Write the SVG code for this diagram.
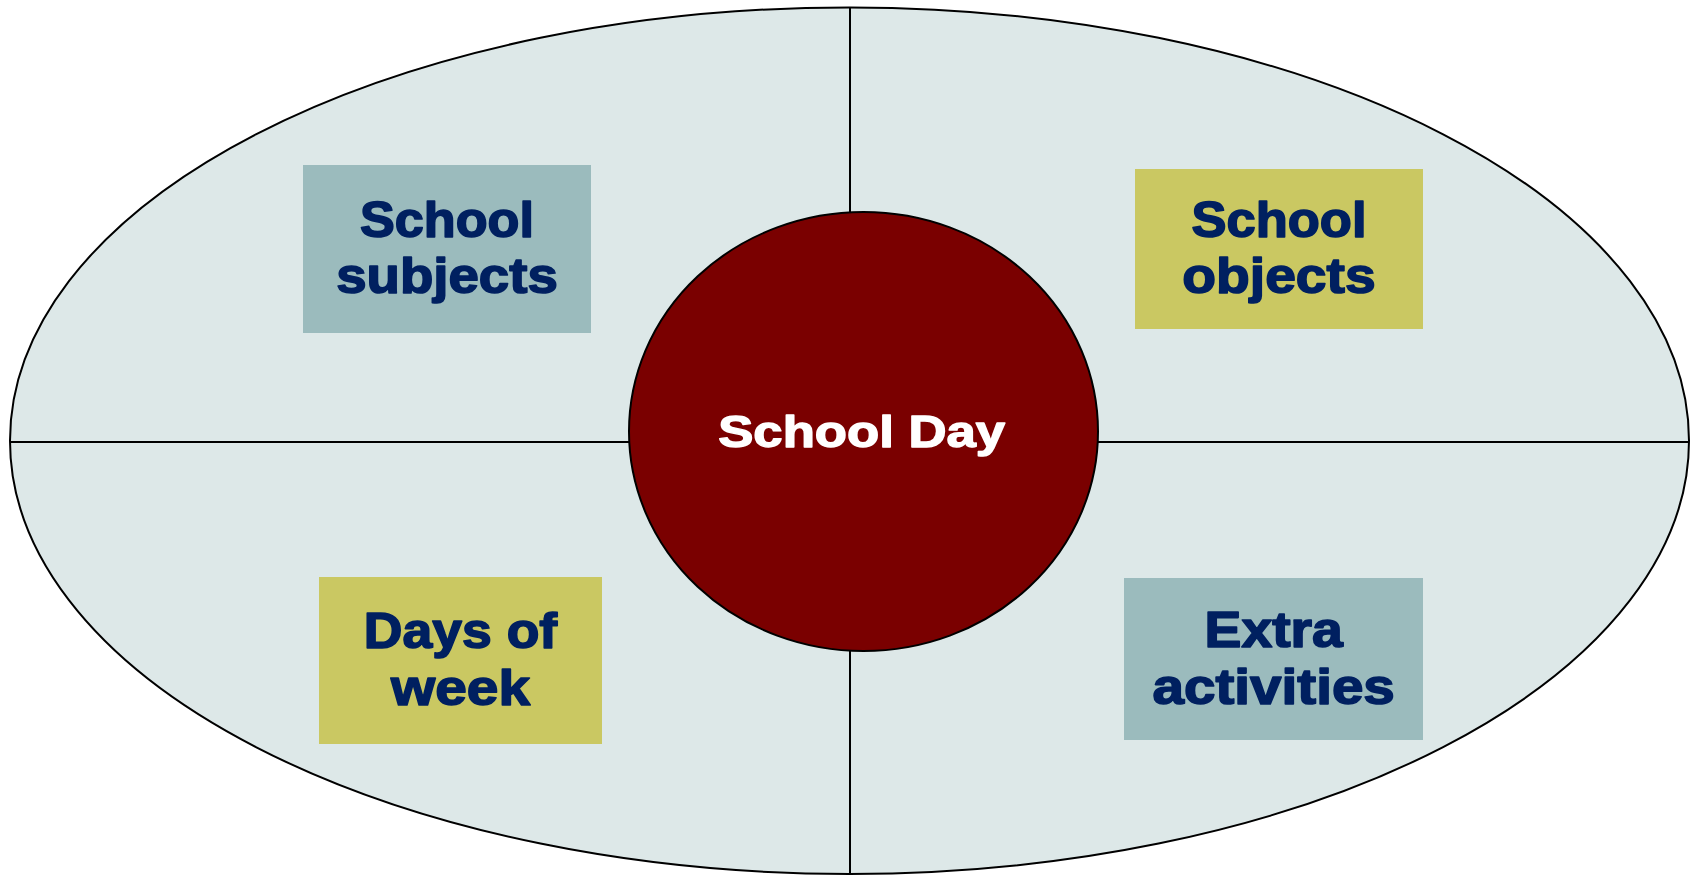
<svg xmlns="http://www.w3.org/2000/svg" width="1700" height="875" viewBox="0 0 1700 875">
<style>
.lbl{font-family:"Liberation Sans",Arial,sans-serif;font-weight:bold;fill:#002060;stroke:#002060;stroke-width:1.6;stroke-linejoin:round;font-size:50px;text-anchor:middle}
.teal{fill:#9BBBBD}
.olive{fill:#CAC862}
.ln{stroke:#000;stroke-width:2;fill:none}
</style>
<rect width="1700" height="875" fill="#ffffff"/>
<g id="background">
<ellipse cx="849.5" cy="440.7" rx="839.5" ry="433.3" fill="#DDE8E8" stroke="#000" stroke-width="2"/>
</g>
<g id="connectors">
<line class="ln" x1="850" y1="7" x2="850" y2="875"/>
<line class="ln" x1="10" y1="442" x2="1689" y2="442"/>
</g>
<g id="center">
<ellipse cx="863.5" cy="431.5" rx="234.5" ry="219.5" fill="#7A0000" stroke="#000" stroke-width="2"/>
<text x="861.7" y="446.7" font-family="Liberation Sans,Arial,sans-serif" font-weight="bold" font-size="44" fill="#ffffff" stroke="#ffffff" stroke-width="1.4" stroke-linejoin="round" text-anchor="middle" textLength="287" lengthAdjust="spacingAndGlyphs">School Day</text>
</g>
<g id="school-subjects">
<rect class="teal" x="303" y="165" width="288" height="168"/>
<text class="lbl" x="447" y="237.3" textLength="174" lengthAdjust="spacingAndGlyphs">School</text>
<text class="lbl" x="447" y="293.3" textLength="221.7" lengthAdjust="spacingAndGlyphs">subjects</text>
</g>
<g id="school-objects">
<rect class="olive" x="1135" y="169" width="288" height="160"/>
<text class="lbl" x="1279" y="236.7" textLength="175" lengthAdjust="spacingAndGlyphs">School</text>
<text class="lbl" x="1279" y="293.3" textLength="193.3" lengthAdjust="spacingAndGlyphs">objects</text>
</g>
<g id="days-of-week">
<rect class="olive" x="319" y="577" width="283" height="167"/>
<text class="lbl" x="460.5" y="647.7" textLength="193.3" lengthAdjust="spacingAndGlyphs">Days of</text>
<text class="lbl" x="460.5" y="705" textLength="139" lengthAdjust="spacingAndGlyphs">week</text>
</g>
<g id="extra-activities">
<rect class="teal" x="1124" y="578" width="299" height="162"/>
<text class="lbl" x="1273.7" y="646.7" textLength="138.3" lengthAdjust="spacingAndGlyphs">Extra</text>
<text class="lbl" x="1273.7" y="704.3" textLength="242.3" lengthAdjust="spacingAndGlyphs">activities</text>
</g>
</svg>
